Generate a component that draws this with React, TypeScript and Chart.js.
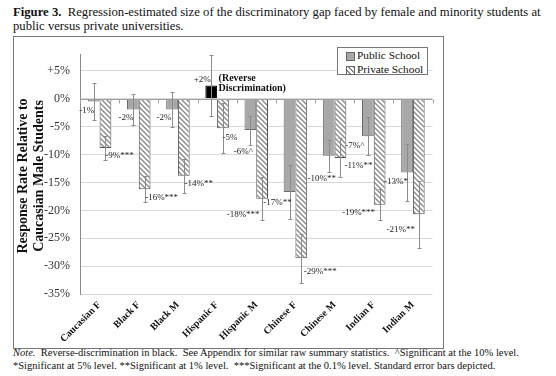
import React, { useEffect, useRef } from "react";
import { Chart, registerables } from "chart.js";

Chart.register(...registerables);

// ---------- data ----------
const categories = [
  "Caucasian F",
  "Black F",
  "Black M",
  "Hispanic F",
  "Hispanic M",
  "Chinese F",
  "Chinese M",
  "Indian F",
  "Indian M",
];
const publicValues = [-0.5, -1.9, -1.9, 2.4, -5.6, -16.7, -10.2, -6.7, -13.2];
const publicErrors = [3.3, 2.8, 3.2, 5.4, 2.6, 4.9, 2.9, 3.4, 5.1];
const privateValues = [-8.8, -16.2, -13.8, -5.3, -17.9, -28.6, -10.6, -19.0, -20.7];
const privateErrors = [2.2, 2.3, 3.0, 4.5, 3.8, 4.4, 3.5, 2.8, 6.0];
const publicLabels = ["-1%", "-2%", "-2%", "+2%", "-6%^", "-17%**", "-10%**", "-7%^", "-13%*"];
const privateLabels = ["-9%***", "-16%***", "-14%**", "-5%", "-18%***", "-29%***", "-11%**", "-19%***", "-21%**"];
const yTickValues = [5, 0, -5, -10, -15, -20, -25, -30, -35];
const seriesNames = ["Public School", "Private School"];
const reverseNote = ["(Reverse", "Discrimination)"];

// ---------- layout tweaks (label nudges from bar end, px) ----------
const PUB_NUDGE: [number, number][] = [
  [-7, 9], [-7, 8], [-8, 8], [-9, -6], [-7, 22], [-12, 11], [-7, 23], [-13, 9], [-11, 9],
];
const PRIV_NUDGE: [number, number][] = [
  [14, 8], [17, 8], [15, 8], [7, 9], [-19, 16], [19, 13], [18, 8], [-21, 8], [-18, 15],
];

const SERIF = "'Liberation Serif', 'Times New Roman', Times, serif";

function makeHatch(ctx: CanvasRenderingContext2D) {
  const c = document.createElement("canvas");
  c.width = 5;
  c.height = 5;
  const g = c.getContext("2d")!;
  g.fillStyle = "#ffffff";
  g.fillRect(0, 0, 5, 5);
  g.strokeStyle = "#8a8a8a";
  g.lineWidth = 1.4;
  g.beginPath();
  g.moveTo(-1, -1);
  g.lineTo(6, 6);
  g.moveTo(-1, 4);
  g.lineTo(1, 6);
  g.moveTo(4, -1);
  g.lineTo(6, 1);
  g.stroke();
  return ctx.createPattern(c, "repeat")!;
}

const overlayPlugin = {
  id: "overlay",
  afterDatasetsDraw(chart: any) {
    const ctx: CanvasRenderingContext2D = chart.ctx;
    const y = chart.scales.y;
    const area = chart.chartArea;
    ctx.save();

    // category axis at 0 with boundary ticks
    const y0 = Math.round(y.getPixelForValue(0)) + 0.5;
    ctx.strokeStyle = "#a0a0a0";
    ctx.lineWidth = 1;
    ctx.beginPath();
    ctx.moveTo(area.left, y0);
    ctx.lineTo(area.right, y0);
    const n = categories.length;
    for (let i = 0; i <= n; i++) {
      const xb = Math.round(area.left + (i * (area.right - area.left)) / n) + 0.5;
      ctx.moveTo(xb, y0);
      ctx.lineTo(xb, y0 + 4);
    }
    ctx.stroke();

    // error bars
    const sets = [
      { v: publicValues, e: publicErrors },
      { v: privateValues, e: privateErrors },
    ];
    ctx.strokeStyle = "#8c8c8c";
    ctx.lineWidth = 1;
    sets.forEach((s, di) => {
      const meta = chart.getDatasetMeta(di);
      meta.data.forEach((bar: any, i: number) => {
        const yt = Math.round(y.getPixelForValue(s.v[i] + s.e[i])) + 0.5;
        const yb = Math.round(y.getPixelForValue(s.v[i] - s.e[i])) + 0.5;
        const bx = Math.round(bar.x) + 0.5;
        ctx.beginPath();
        ctx.moveTo(bx, yt);
        ctx.lineTo(bx, yb);
        ctx.moveTo(bx - 2, yt);
        ctx.lineTo(bx + 2, yt);
        ctx.moveTo(bx - 2, yb);
        ctx.lineTo(bx + 2, yb);
        ctx.stroke();
      });
    });

    // value labels
    ctx.fillStyle = "#222";
    ctx.font = `9px ${SERIF}`;
    ctx.textAlign = "center";
    ctx.textBaseline = "middle";
    const pubMeta = chart.getDatasetMeta(0);
    const privMeta = chart.getDatasetMeta(1);
    pubMeta.data.forEach((bar: any, i: number) => {
      ctx.fillText(publicLabels[i], bar.x + PUB_NUDGE[i][0], bar.y + PUB_NUDGE[i][1]);
    });
    privMeta.data.forEach((bar: any, i: number) => {
      ctx.fillText(privateLabels[i], bar.x + PRIV_NUDGE[i][0], bar.y + PRIV_NUDGE[i][1]);
    });

    // reverse discrimination note next to positive bars
    ctx.font = `bold 10px ${SERIF}`;
    ctx.textAlign = "left";
    ctx.fillStyle = "#111";
    pubMeta.data.forEach((bar: any, i: number) => {
      if (publicValues[i] > 0) {
        const lx = bar.x + bar.width / 2 + 1.5;
        ctx.fillText(reverseNote[0], lx, bar.y - 7);
        ctx.fillText(reverseNote[1], lx, bar.y + 3);
      }
    });

    // y-axis title (two lines, rotated)
    ctx.font = `bold 14px ${SERIF}`;
    ctx.textAlign = "center";
    ctx.fillStyle = "#111";
    ctx.translate(9, 139);
    ctx.rotate(-Math.PI / 2);
    ctx.fillText("Response Rate Relative to", 0, 0);
    ctx.fillText("Caucasian Male Students", 0, 16);
    ctx.restore();
  },
};

export default function App() {
  const ref = useRef<HTMLCanvasElement | null>(null);

  useEffect(() => {
    document.body.style.margin = "0";
    const canvas = ref.current!;
    const ctx = canvas.getContext("2d")!;
    const hatch = makeHatch(ctx);
    const chart = new Chart(canvas, {
      type: "bar",
      data: {
        labels: categories,
        datasets: [
          {
            label: seriesNames[0],
            data: publicValues,
            backgroundColor: publicValues.map((v) => (v > 0 ? "#000000" : "#a8a8a8")),
            borderColor: publicValues.map((v) => (v > 0 ? "#000000" : "#6a6a6a")),
            borderWidth: 1,
            barPercentage: 1,
            categoryPercentage: 0.6,
          },
          {
            label: seriesNames[1],
            data: privateValues,
            backgroundColor: hatch,
            borderColor: "#555555",
            borderWidth: 1,
            barPercentage: 1,
            categoryPercentage: 0.6,
          },
        ],
      },
      options: {
        animation: false,
        responsive: false,
        devicePixelRatio: 1,
        layout: { padding: { left: 0, top: 5, right: 9.5, bottom: 0 } },
        plugins: {
          legend: { display: false },
          tooltip: { enabled: false },
          title: { display: false },
        },
        scales: {
          x: {
            grid: { display: false, drawTicks: false },
            border: { display: false },
            ticks: {
              autoSkip: false,
              maxRotation: 45,
              minRotation: 45,
              padding: 5,
              color: "#111",
              font: { family: SERIF, size: 10, weight: "bold" },
            },
            afterFit(scale: any) {
              scale.height = 53;
            },
          },
          y: {
            min: -35,
            max: 8,
            grid: { color: "#d9d9d9", drawTicks: false },
            border: { color: "#8a8a8a" },
            afterBuildTicks(scale: any) {
              scale.ticks = yTickValues.map((v) => ({ value: v }));
            },
            ticks: {
              padding: 10,
              color: "#333",
              font: { family: SERIF, size: 12 },
              callback: (v: any) => (v > 0 ? `+${v}%` : `${v}%`),
            },
            afterFit(scale: any) {
              scale.width = 66;
            },
          },
        },
      },
      plugins: [overlayPlugin],
    } as any);
    return () => chart.destroy();
  }, []);

  const legendSwatch = (hatched: boolean): React.CSSProperties => ({
    display: "inline-block",
    width: 7,
    height: 7,
    border: "1px solid #666",
    marginRight: 2,
    verticalAlign: "middle",
    background: hatched
      ? "repeating-linear-gradient(45deg, #ffffff 0px, #ffffff 2px, #8a8a8a 2px, #8a8a8a 3.5px)"
      : "#a8a8a8",
  });

  return (
    <div
      style={{
        position: "absolute",
        left: 0,
        top: 0,
        width: 556,
        height: 376,
        background: "#fff",
        fontFamily: SERIF,
        color: "#111",
        overflow: "hidden",
      }}
    >
      <div
        style={{
          position: "absolute",
          left: 13,
          top: 5,
          fontSize: 12.7,
          lineHeight: "14px",
          whiteSpace: "nowrap",
        }}
      >
        <b>Figure 3.</b>&nbsp; Regression-estimated size of the discriminatory gap faced by female and minority students at
        <br />
        public versus private universities.
      </div>
      <div
        style={{
          position: "absolute",
          left: 13,
          top: 36,
          width: 429,
          height: 311,
          border: "1px solid #777",
        }}
      />
      <canvas
        ref={ref}
        width={428}
        height={310}
        style={{ position: "absolute", left: 14, top: 37, width: 428, height: 310 }}
      />
      <div
        style={{
          position: "absolute",
          left: 337,
          top: 47,
          width: 91,
          height: 28,
          border: "1px solid #777",
          background: "#fff",
          fontSize: 11.3,
          lineHeight: "14px",
          paddingLeft: 8,
          boxSizing: "border-box",
          paddingTop: 0,
        }}
      >
        <div style={{ whiteSpace: "nowrap" }}>
          <span style={legendSwatch(false)} />
          {seriesNames[0]}
        </div>
        <div style={{ whiteSpace: "nowrap" }}>
          <span style={legendSwatch(true)} />
          {seriesNames[1]}
        </div>
      </div>
      <div
        style={{
          position: "absolute",
          left: 13,
          top: 347,
          fontSize: 10.5,
          lineHeight: "12.5px",
          whiteSpace: "nowrap",
        }}
      >
        <i>Note.</i>&nbsp; Reverse-discrimination in black.&nbsp; See Appendix for similar raw summary statistics.&nbsp; ^Significant at the 10% level.
        <br />
        *Significant at 5% level. **Significant at 1% level.&nbsp; ***Significant at the 0.1% level. Standard error bars depicted.
      </div>
    </div>
  );
}
